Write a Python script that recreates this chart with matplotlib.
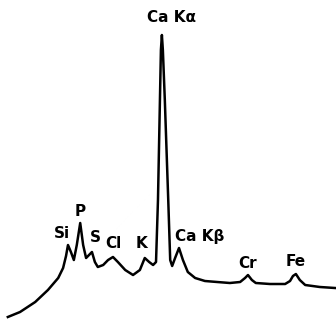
import matplotlib
matplotlib.use("Agg")
import matplotlib.pyplot as plt

# Spectrum trace (energy in keV, intensity in arbitrary units)
energy = [0.51, 0.76, 1.07, 1.33, 1.54, 1.64, 1.70, 1.74, 1.80, 1.86, 1.92, 1.99,
          2.05, 2.11, 2.17, 2.23, 2.29, 2.35, 2.46, 2.56, 2.66, 2.76, 2.91, 3.07,
          3.21, 3.31, 3.40, 3.48, 3.54, 3.58, 3.62, 3.64, 3.66, 3.68, 3.72, 3.79,
          3.83, 3.87, 3.93, 4.01, 4.09, 4.19, 4.34, 4.54, 4.79, 5.05, 5.26, 5.36,
          5.42, 5.50, 5.58, 5.87, 6.18, 6.28, 6.34, 6.40, 6.48, 6.59, 6.89, 7.20]
counts = [3, 8, 18, 30, 42, 52, 64, 75, 68, 60, 75, 97,
          75, 62, 65, 68, 58, 53, 55, 60, 63, 58, 50, 45,
          50, 62, 58, 55, 58, 120, 220, 270, 285, 270, 220, 120,
          60, 54, 62, 72, 60, 48, 42, 39, 38, 37, 38, 42,
          45, 40, 37, 36, 36, 39, 44, 46, 40, 35, 33, 32]

# Peak labels
labels = ["Ca K\u03b1", "Si", "P", "S", "Cl", "K", "Ca K\u03b2", "Cr", "Fe"]
label_x = [3.85, 1.62, 1.99, 2.29, 2.66, 3.25, 4.44, 5.42, 6.40]
label_y = [303, 87, 108, 83, 76, 77, 84, 57, 59]

fig = plt.figure(figsize=(3.36, 3.2), dpi=100)
ax = fig.add_axes([0, 0, 1, 1])
ax.plot(energy, counts, color="black", linewidth=1.8, solid_joinstyle="round")

for lab, x, y in zip(labels, label_x, label_y):
    ax.text(x, y, lab, ha="center", va="center", fontsize=11,
            fontweight="bold", color="black")

ax.set_xlim(0.35, 7.22)
ax.set_ylim(0, 320)
ax.axis("off")

fig.savefig("out.png", dpi=100)
